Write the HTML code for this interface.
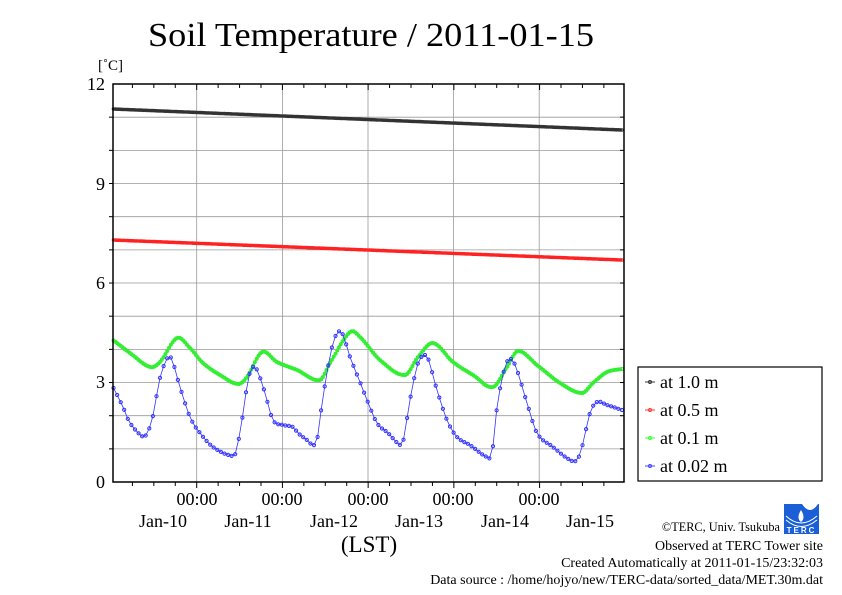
<!DOCTYPE html>
<html><head><meta charset="utf-8"><style>
html,body{margin:0;padding:0;background:#fff;}
svg{display:block;font-family:"Liberation Serif",serif;}
</style></head><body>
<svg id="s" width="842" height="595" viewBox="0 0 842 595" xmlns="http://www.w3.org/2000/svg">
<rect width="842" height="595" fill="#fff"/>
<text x="148" y="46" font-size="34" textLength="446" lengthAdjust="spacingAndGlyphs">Soil Temperature / 2011-01-15</text>
<text x="98" y="70" font-size="15">[˚C]</text>
<g id="grid" stroke="#999" stroke-width="0.8"></g>
<g id="data"></g>
<rect x="113" y="84" width="511" height="398" fill="none" stroke="#000" stroke-width="1.5"/>
<g id="ticks" stroke="#000" stroke-width="1"></g>
<g font-size="18" text-anchor="end">
<text x="105" y="90">12</text><text x="105" y="190">9</text><text x="105" y="289">6</text><text x="105" y="388">3</text><text x="105" y="488">0</text>
</g>
<g font-size="18" text-anchor="middle">
<text x="197" y="505">00:00</text><text x="282" y="505">00:00</text><text x="368" y="505">00:00</text><text x="453" y="505">00:00</text><text x="539" y="505">00:00</text>
<text x="163" y="527">Jan-10</text><text x="248" y="527">Jan-11</text><text x="334" y="527">Jan-12</text><text x="419" y="527">Jan-13</text><text x="505" y="527">Jan-14</text><text x="590" y="527">Jan-15</text>
<text x="369" y="552" font-size="23">(LST)</text>
</g>
<rect x="638" y="367" width="184" height="114" fill="#fff" stroke="#000" stroke-width="1.2"/>
<g font-size="18">
<line x1="645" y1="382" x2="655" y2="382" stroke="#333"/><circle cx="650" cy="382" r="1.5" fill="none" stroke="#333"/><text x="660" y="388">at 1.0 m</text>
<line x1="645" y1="410" x2="655" y2="410" stroke="#f33"/><circle cx="650" cy="410" r="1.5" fill="none" stroke="#f33"/><text x="660" y="416">at 0.5 m</text>
<line x1="645" y1="438" x2="655" y2="438" stroke="#3f3"/><circle cx="650" cy="438" r="1.5" fill="none" stroke="#3f3"/><text x="660" y="444">at 0.1 m</text>
<line x1="645" y1="466" x2="655" y2="466" stroke="#44f"/><circle cx="650" cy="466" r="1.5" fill="none" stroke="#44f"/><text x="660" y="472">at 0.02 m</text>
</g>
<g font-size="14" text-anchor="end">
<text x="780" y="531" font-size="12.3">©TERC, Univ. Tsukuba</text>
<text x="823" y="550">Observed at TERC Tower site</text>
<text x="823" y="567">Created Automatically at 2011-01-15/23:32:03</text>
<text x="823" y="584">Data source : /home/hojyo/new/TERC-data/sorted_data/MET.30m.dat</text>
</g>
<g>
<path d="M784 504 L802 504 Q810 516 818 504 L819 504 L819 534 L784 534 Z" fill="#1a5fd6"/>
<path d="M801 510 Q796 518 801 522 Q806 518 801 510Z" fill="#fff"/>
<path d="M786 516 Q801 530 817 516" fill="none" stroke="#fff" stroke-width="1"/>
<path d="M786 520 Q801 533 817 520" fill="none" stroke="#fff" stroke-width="1"/>
<text x="801.5" y="533" font-size="8" fill="#fff" text-anchor="middle" font-family="Liberation Sans,sans-serif" font-weight="bold" letter-spacing="2">TERC</text>
</g>
</svg>
<script>
var NS="http://www.w3.org/2000/svg";
function el(p,t,a){var e=document.createElementNS(NS,t);for(var k in a)e.setAttribute(k,a[k]);p.appendChild(e);return e;}
var g=document.getElementById('grid'),tk=document.getElementById('ticks'),d=document.getElementById('data');
for(var i=1;i<12;i++){var y=84+i*33.17;el(g,'line',{x1:113,x2:624,y1:y,y2:y});el(tk,'line',{x1:109,x2:113,y1:y,y2:y});el(tk,'line',{x1:620,x2:624,y1:y,y2:y});}
var maj=[196.7,282.4,368,453.6,539.2],step=21.43;
maj.forEach(function(x){el(g,'line',{x1:x,x2:x,y1:84,y2:482});});
for(var x=maj[0]-3*step;x<624;x+=step){if(x<113)continue;var M=maj.some(function(m){return Math.abs(m-x)<2});var L=M?6:4;
el(tk,'line',{x1:x,x2:x,y1:84,y2:84+L});el(tk,'line',{x1:x,x2:x,y1:482,y2:482+L});}
function cr(pts,x){var n=pts.length;for(var i=0;i<n-1;i++){if(x<=pts[i+1][0]){var p0=pts[Math.max(0,i-1)],p1=pts[i],p2=pts[i+1],p3=pts[Math.min(n-1,i+2)];var t=(x-p1[0])/(p2[0]-p1[0]);
var m1=(p2[1]-p0[1])/(p2[0]-p0[0])*(p2[0]-p1[0]),m2=(p3[1]-p1[1])/(p3[0]-p1[0])*(p2[0]-p1[0]);var t2=t*t,t3=t2*t;
return (2*t3-3*t2+1)*p1[1]+(t3-2*t2+t)*m1+(-2*t3+3*t2)*p2[1]+(t3-t2)*m2;}}return pts[n-1][1];}
function series(pts,col,st,r,lw,mw){var s="",c=[];for(var x=113.5;x<=622;x+=st){var y=cr(pts,x);s+=(s?" L":"M")+x.toFixed(1)+" "+y.toFixed(1);c.push([x,y]);}
el(d,'path',{d:s,fill:'none',stroke:col,'stroke-width':lw});
c.forEach(function(p){el(d,'circle',{cx:p[0].toFixed(1),cy:p[1].toFixed(1),r:r,fill:'none',stroke:col,'stroke-width':mw});});}
series([[113,109],[622,130]],'#333',1.79,1.3,2,1);
series([[113,240],[622,260]],'#f22',1.79,1.3,2,1);
series([[113,340],[130,353],[150,367],[160,362],[177,338],[190,348],[203,363],[220,375],[238,384],[247,377],[262,352],[277,362],[297,370],[320,380],[330,363],[350,332],[360,337],[380,360],[405,375],[418,357],[433,343],[453,362],[473,375],[493,387],[507,367],[518,351],[537,365],[560,383],[582,393],[593,383],[607,372],[622,369]],'#3e3',1.79,1.5,2,1);
series([[113,387],[123,407],[130,423],[143,437],[146,435],[152,420],[160,378],[168,357],[172,360],[180,387],[190,417],[200,433],[213,447],[232,456],[236,452],[242,420],[248,380],[253,367],[257,370],[265,393],[273,420],[283,425],[293,427],[298,433],[307,440],[313,445],[317,440],[323,397],[332,347],[338,332],[343,335],[350,357],[360,382],[367,400],[377,423],[388,433],[400,445],[403,442],[410,400],[418,363],[425,355],[428,358],[437,390],[447,420],[457,437],[470,445],[487,457],[492,453],[497,407],[505,367],[511,359],[517,370],[527,403],[537,433],[553,447],[570,460],[577,460],[582,447],[590,413],[597,402],[607,405],[622,410]],'#33f',3.58,1.6,0.8,1);
</script>
</body></html>
